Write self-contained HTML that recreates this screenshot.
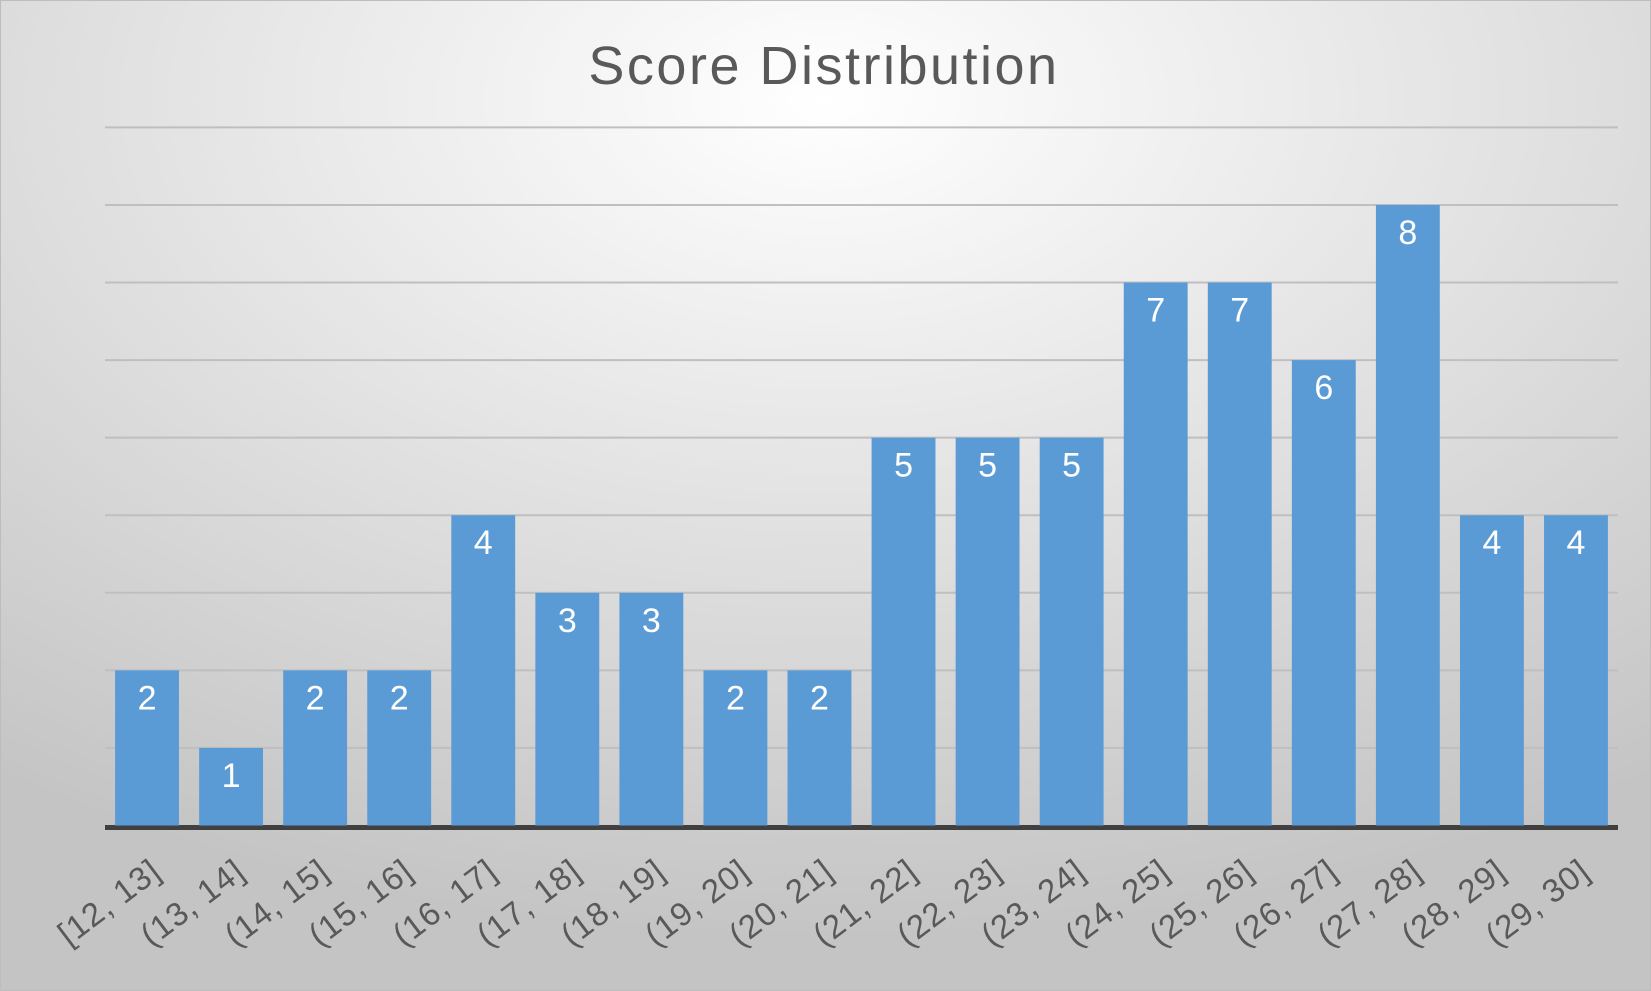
<!DOCTYPE html>
<html><head><meta charset="utf-8"><style>
html,body{margin:0;padding:0;width:1651px;height:991px;overflow:hidden}
#chart{position:absolute;left:0;top:0;width:1651px;height:991px}
</style></head><body>
<svg id="chart" width="1651" height="991" viewBox="0 0 1651 991" xmlns="http://www.w3.org/2000/svg">
<defs>
<radialGradient id="bg" cx="50%" cy="10%" r="85%" fx="50%" fy="10%">
<stop offset="0%" stop-color="#ffffff"/>
<stop offset="100%" stop-color="#c4c4c4"/>
</radialGradient>
</defs>
<rect x="0.5" y="0.5" width="1650" height="990" fill="url(#bg)" stroke="#bdbdbd"/>
<text x="824" y="84" text-anchor="middle" font-family="Liberation Sans, sans-serif" font-size="54" letter-spacing="2.5" fill="#595959">Score Distribution</text>
<g id="grid"></g><g id="bars"></g><g id="labels"></g><g id="xlabels"></g>
</svg>
<script>
const categories=["[12, 13]","(13, 14]","(14, 15]","(15, 16]","(16, 17]","(17, 18]","(18, 19]","(19, 20]","(20, 21]","(21, 22]","(22, 23]","(23, 24]","(24, 25]","(25, 26]","(26, 27]","(27, 28]","(28, 29]","(29, 30]"];
const counts=[2,1,2,2,4,3,3,2,2,5,5,5,7,7,6,8,4,4];
const gridTicks=[1,2,3,4,5,6,7,8,9];
const NS="http://www.w3.org/2000/svg";
const L=105,R=1618,B=825.5,T=127.4,YMAX=9;
const band=(R-L)/categories.length;
function y(v){return B-(B-T)*v/YMAX;}
function xc(i){return L+band*(i+0.5);}
function mk(t,a,p){const e=document.createElementNS(NS,t);for(const k in a)e.setAttribute(k,a[k]);p.appendChild(e);return e;}
const g=document.getElementById('grid');
gridTicks.forEach(v=>{
 const ln=mk('line',{x1:L,x2:R,y1:y(v),y2:y(v),stroke:'#bfbfbf','stroke-width':2},g);
 
 
});
const bw=band*0.76;
const bg=document.getElementById('bars'),lg=document.getElementById('labels'),xg=document.getElementById('xlabels');
counts.forEach((v,i)=>{
 const r=mk('rect',{x:xc(i)-bw/2,y:y(v),width:bw,height:B-y(v),fill:'#5b9bd5'},bg);
 
 
 const t=mk('text',{x:xc(i),y:y(v)+39,'text-anchor':'middle','font-family':'Liberation Sans, sans-serif','font-size':34,fill:'#ffffff'},lg);
 t.textContent=v;
 
 
 const xl=mk('text',{x:0,y:0,'text-anchor':'end','font-family':'Liberation Sans, sans-serif','font-size':33,'letter-spacing':1,fill:'#595959',transform:'translate('+(xc(i)+16)+','+(B+50)+') rotate(-37)'},xg);
 xl.textContent=categories[i];
 
 
});
const ax=mk('line',{x1:L,x2:R,y1:B+2,y2:B+2,stroke:'#404040','stroke-width':5},g);


</script>
</body></html>
